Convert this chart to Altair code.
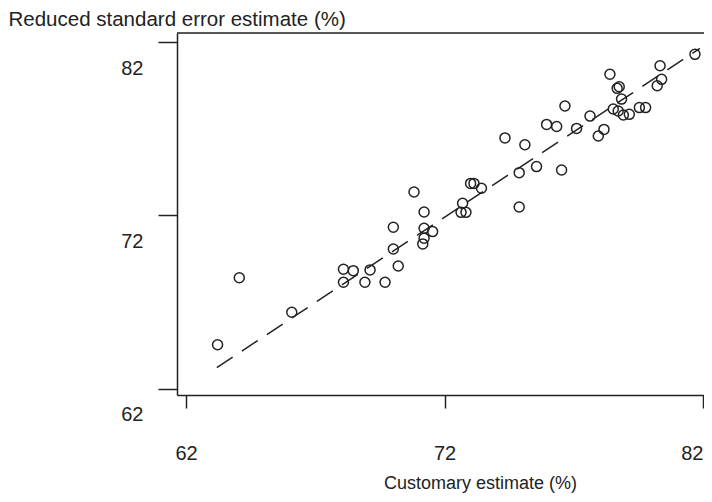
import altair as alt
import pandas as pd

# Customary estimate (%) -> x, Reduced standard error estimate (%) -> y
customary = [63.22, 64.06, 66.09, 68.09, 68.47, 69.12, 68.09, 68.92, 69.70, 70.21,
             70.02, 70.02, 70.82, 71.21, 71.21, 71.54, 71.21, 71.16, 72.70, 72.64,
             72.83, 73.01, 73.14, 73.43, 74.89, 74.89, 75.56, 76.53, 74.34, 75.11,
             75.95, 76.34, 77.11, 77.63, 77.95, 78.17, 76.66, 78.40, 78.68, 78.76,
             78.85, 78.53, 78.72, 78.92, 79.15, 79.54, 79.78, 80.34, 80.40, 80.23,
             81.69]
reduced = [64.55, 68.41, 66.42, 68.90, 68.82, 68.86, 68.15, 68.15, 68.15, 69.09,
           70.07, 71.32, 73.35, 72.20, 71.26, 71.07, 70.69, 70.36, 72.70, 72.18,
           72.18, 73.85, 73.85, 73.57, 72.49, 74.47, 74.82, 74.62, 76.47, 76.08,
           77.25, 77.13, 77.02, 77.73, 76.58, 76.96, 78.31, 80.14, 79.33, 79.42,
           78.71, 78.14, 78.02, 77.79, 77.83, 78.22, 78.22, 80.63, 79.85, 79.48,
           81.29]

fit_x = [63.19, 81.88]
fit_y = [63.23, 81.63]

ticks = [62, 72, 82]

pts = pd.DataFrame({"x": customary, "y": reduced})
fit = pd.DataFrame({"x": fit_x, "y": fit_y})

W, H = 527, 362
FONT = "Liberation Sans"
INK = "#222222"

xscale = alt.Scale(domain=[61.65, 82.04], nice=False, zero=False)
yscale = alt.Scale(domain=[61.65, 82.52], nice=False, zero=False)

xaxis = alt.Axis(values=ticks, grid=False, tickSize=13, labelPadding=35,
                 labelFontSize=20, labelFont=FONT, labelColor=INK,
                 labelAlign={"condition": {"test": "datum.value == 82", "value": "right"},
                             "value": "center"},
                 labelBound=False, labelFlush=False,
                 domainColor=INK, domainWidth=1.5, tickColor=INK, tickWidth=1.5,
                 title="Customary estimate (%)", titleFont=FONT, titleFontSize=18,
                 titleFontWeight="normal", titleColor=INK,
                 titleX=303, titleY=88, titleAlign="center", titleBaseline="middle",
                 titleAnchor="start")
yaxis = alt.Axis(values=ticks, grid=False, tickSize=19, labelPadding=15, labelOffset=26,
                 labelFontSize=20, labelFont=FONT, labelColor=INK,
                 domainColor=INK, domainWidth=1.5, tickColor=INK, tickWidth=1.5,
                 title="Reduced standard error estimate (%)", titleFont=FONT,
                 titleFontSize=20.5, titleFontWeight="normal", titleColor=INK,
                 titleAngle=0, titleX=-169, titleY=-14, titleAlign="left",
                 titleBaseline="middle", titleAnchor="start")

points = alt.Chart(pts).mark_point(shape="circle", filled=False, size=100,
                                   strokeWidth=1.5, color=INK, opacity=1).encode(
    x=alt.X("x:Q", scale=xscale, axis=xaxis),
    y=alt.Y("y:Q", scale=yscale, axis=yaxis),
)

line = alt.Chart(fit).mark_line(strokeDash=[19, 11], strokeWidth=1.5, color=INK).encode(
    x=alt.X("x:Q", scale=xscale),
    y=alt.Y("y:Q", scale=yscale),
)

top = alt.Chart(pd.DataFrame({"a": [0]})).mark_rule(color=INK, strokeWidth=1.5).encode(
    x=alt.value(0), x2=alt.value(W), y=alt.value(0)
)

chart = alt.layer(line, points, top).properties(
    width=W, height=H,
    padding={"left": 169, "top": 25, "right": 0, "bottom": 99},
    autosize=alt.AutoSizeParams(type="none"),
).configure_view(stroke=None).configure(background="white")

chart.save("out.html", embed_options={"renderer": "svg", "actions": False})
